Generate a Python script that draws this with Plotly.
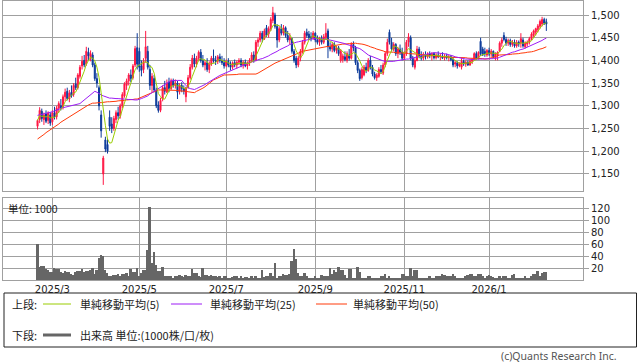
import pandas as pd
import plotly.graph_objects as go

# ---------------- data ----------------
holidays = ["2025-02-24", "2025-03-20", "2025-04-29", "2025-05-05", "2025-05-06",
            "2025-07-21", "2025-08-11", "2025-09-15", "2025-09-23", "2025-10-13",
            "2025-11-03", "2025-11-24", "2025-12-31", "2026-01-01", "2026-01-02",
            "2026-01-12", "2026-02-11"]
dates = [d for d in pd.bdate_range("2025-02-19", "2026-02-13")
         if d.strftime("%Y-%m-%d") not in holidays]

opens = [1255,1270,1288,1270,1282,1268,1280,1265,1285,1276,1295,1300,1298,1320,1332,1315,1330,1325,1348,1340,
         1365,1388,1400,1392,1418,1405,1412,1390,1360,1340,1280,1150,1225,1215,1275,1260,1250,1270,1285,1278,
         1300,1322,1345,1355,1368,1362,1390,1428,1420,1388,1380,1405,1420,1380,1345,1360,1335,1302,1290,1315,
         1340,1330,1352,1338,1355,1345,1350,1332,1345,1338,1320,1340,1362,1385,1405,1392,1405,1418,1400,1390,
         1395,1380,1392,1405,1400,1398,1408,1400,1395,1388,1398,1390,1385,1395,1390,1396,1400,1390,1396,1388,
         1394,1400,1412,1400,1440,1445,1460,1448,1472,1458,1470,1488,1500,1475,1445,1470,1460,1472,1455,1445,
         1448,1420,1405,1390,1405,1420,1440,1462,1458,1452,1450,1460,1445,1440,1448,1440,1450,1465,1430,1425,
         1435,1422,1428,1400,1402,1408,1400,1412,1405,1435,1428,1395,1378,1362,1368,1385,1378,1400,1385,1370,
         1362,1365,1380,1372,1390,1415,1462,1440,1425,1435,1415,1425,1418,1405,1415,1440,1450,1405,1385,1400,
         1425,1410,1405,1412,1408,1414,1410,1415,1406,1412,1408,1410,1405,1410,1406,1408,1402,1392,1395,1388,
         1385,1398,1392,1396,1390,1398,1402,1415,1405,1442,1425,1420,1412,1422,1414,1420,1405,1412,1420,1438,
         1455,1446,1438,1444,1435,1440,1432,1440,1438,1445,1430,1436,1440,1448,1455,1462,1468,1475,1480,1490,
         1485]
highs = [1270,1297,1294,1285,1290,1288,1286,1290,1298,1300,1310,1315,1325,1338,1340,1335,1345,1350,1362,1372,
         1390,1410,1412,1430,1428,1422,1418,1395,1372,1345,1290,1190,1232,1228,1290,1275,1278,1290,1298,1305,
         1330,1352,1360,1372,1380,1392,1432,1460,1428,1400,1405,1465,1432,1390,1372,1368,1340,1310,1318,1345,
         1355,1358,1362,1360,1360,1358,1355,1350,1352,1345,1342,1368,1392,1412,1415,1410,1422,1425,1412,1400,
         1405,1398,1410,1424,1410,1412,1415,1410,1405,1402,1405,1398,1398,1402,1400,1405,1405,1400,1402,1398,
         1405,1418,1420,1445,1450,1465,1465,1470,1478,1475,1495,1518,1505,1480,1475,1480,1478,1475,1465,1460,
         1450,1425,1410,1410,1425,1445,1465,1470,1465,1462,1465,1462,1455,1452,1455,1458,1482,1470,1440,1440,
         1440,1432,1432,1425,1415,1420,1420,1425,1440,1442,1432,1400,1382,1385,1390,1395,1405,1410,1390,1375,
         1372,1385,1390,1395,1420,1448,1468,1450,1440,1438,1430,1435,1428,1420,1445,1460,1455,1410,1405,1432,
         1430,1420,1418,1420,1418,1420,1418,1418,1416,1420,1415,1418,1414,1415,1412,1412,1408,1400,1398,1396,
         1405,1402,1400,1400,1402,1405,1418,1420,1420,1450,1430,1428,1425,1428,1425,1422,1418,1420,1442,1450,
         1462,1452,1448,1448,1445,1446,1445,1444,1460,1450,1442,1444,1452,1462,1468,1472,1480,1490,1496,1494,
         1492]
lows = [1248,1262,1265,1258,1262,1260,1256,1258,1270,1270,1285,1290,1292,1310,1312,1308,1318,1320,1335,1336,
        1360,1380,1385,1388,1400,1398,1385,1355,1340,1290,1230,1126,1198,1195,1245,1240,1245,1262,1270,1272,
        1295,1318,1335,1345,1352,1358,1385,1380,1375,1365,1372,1395,1380,1335,1330,1330,1295,1285,1286,1310,
        1325,1328,1330,1335,1340,1338,1315,1325,1330,1325,1308,1338,1358,1380,1385,1385,1398,1395,1385,1378,
        1375,1372,1388,1395,1390,1392,1395,1390,1382,1385,1385,1378,1380,1385,1382,1390,1385,1382,1385,1380,
        1388,1395,1395,1398,1430,1440,1440,1445,1452,1450,1465,1482,1470,1428,1440,1455,1455,1450,1440,1435,
        1415,1395,1383,1385,1398,1415,1435,1450,1445,1442,1445,1440,1435,1432,1435,1436,1445,1405,1420,1418,
        1418,1415,1410,1395,1395,1398,1395,1400,1402,1420,1390,1372,1355,1358,1365,1372,1375,1380,1365,1358,
        1355,1362,1370,1368,1385,1410,1435,1420,1420,1410,1405,1412,1400,1400,1410,1430,1400,1385,1380,1398,
        1405,1400,1400,1402,1404,1405,1400,1402,1402,1405,1400,1403,1400,1402,1398,1398,1385,1385,1382,1385,
        1380,1388,1386,1388,1388,1392,1400,1402,1402,1410,1410,1408,1408,1410,1408,1405,1400,1400,1418,1430,
        1442,1432,1432,1430,1430,1428,1428,1430,1428,1428,1426,1430,1435,1445,1450,1455,1462,1470,1475,1478,
        1465]
closes = [1268,1290,1272,1280,1266,1284,1262,1285,1275,1295,1305,1296,1320,1330,1316,1328,1322,1345,1340,1368,
          1385,1398,1390,1420,1410,1415,1390,1360,1350,1300,1245,1185,1205,1200,1255,1250,1272,1285,1278,1300,
          1325,1348,1355,1368,1360,1388,1426,1392,1385,1378,1398,1430,1385,1345,1365,1335,1300,1290,1312,1340,
          1332,1350,1338,1355,1345,1350,1330,1345,1338,1332,1340,1362,1385,1405,1392,1405,1418,1400,1390,1395,
          1380,1392,1405,1400,1398,1408,1400,1395,1388,1398,1390,1385,1395,1390,1396,1400,1390,1396,1388,1394,
          1400,1412,1400,1440,1445,1460,1448,1465,1455,1470,1490,1505,1475,1445,1470,1460,1472,1455,1445,1450,
          1420,1400,1390,1405,1420,1440,1460,1455,1450,1448,1460,1445,1440,1448,1440,1452,1460,1430,1425,1435,
          1422,1428,1415,1420,1410,1402,1415,1405,1435,1428,1395,1378,1360,1380,1385,1378,1400,1385,1370,1362,
          1368,1380,1375,1390,1415,1440,1440,1425,1435,1415,1425,1418,1405,1415,1440,1452,1405,1390,1400,1425,
          1410,1405,1412,1408,1414,1410,1415,1406,1412,1408,1410,1405,1410,1406,1408,1402,1390,1395,1388,1393,
          1398,1392,1396,1390,1398,1402,1415,1405,1418,1415,1412,1415,1422,1414,1420,1408,1415,1418,1438,1445,
          1446,1438,1444,1435,1440,1432,1440,1436,1448,1432,1438,1440,1448,1458,1465,1470,1476,1486,1490,1482,
          1480]
volumes = [60,22,24,23,18,17,13,13,20,18,18,13,11,15,14,14,10,9,13,15,
           15,18,13,15,15,17,20,10,17,37,42,40,17,11,7,7,9,9,10,7,
           10,10,11,7,18,13,13,20,7,11,17,17,50,122,28,47,25,15,15,22,
           6,6,6,7,4,7,7,9,7,5,9,7,7,18,11,11,6,5,20,9,
           9,7,9,6,6,5,7,4,6,6,4,3,5,7,7,4,6,4,5,5,
           3,7,4,7,3,3,17,5,7,7,11,7,28,4,6,6,10,9,9,10,
           32,52,35,11,7,7,11,7,4,4,4,7,3,3,9,6,7,7,20,10,
           17,14,22,17,17,9,3,18,18,3,4,22,14,4,4,4,6,7,3,3,
           3,4,7,7,10,4,7,3,3,3,3,2,10,10,7,6,20,7,17,17,
           4,4,2,4,4,6,2,4,6,7,7,10,9,7,6,6,10,7,3,3,
           2,4,7,9,10,10,7,6,10,10,7,4,7,9,6,5,4,4,7,4,
           6,7,4,4,9,10,3,3,2,4,6,4,4,7,10,10,15,7,11,14,
           14]
ma25 = [1279,1280,1281,1282,1283,1284,1285,1287,
        1289,1291,1293,1294,1296,1297,
        1298,1299,1300,1301,1302,1303,1305,
        1309,1313,1318,
        1322,1326,1329,1332,
        1330,1326,
        1324,1322,1320,1318,1317,
        1317,1316,1316,1316,1315,1315,1315,
        1314,1314,1314,1313,1313,1313,
        1314,1316,1318,1320,1322,
        1326,1329,1332,1336,1339,
        1342,1345,1348,1351,1353,1355,
        1356,1356,1356,1356,1356,
        1350,1345,1340,
        1338,1337,1336,
        1338,1340,1342,1345,1347,
        1350,1353,1356,1359,1362,1364,1367,
        1369,1371,1373,1375,1377,1379,1381,1383,
        1385,1388,1390,
        1392,1393,1395,1397,1398,1400,
        1401,1403,1404,1406,1407,
        1410,1413,1415,1418,
        1420,1423,1425,1428,1430,1432,1435,1437,
        1438,1440,1441,1442,1443,1445,1446,1447,
        1447,1448,1448,1448,1448,1448,1447,1447,
        1446,1445,1444,1443,1442,1441,1440,1438,
        1437,1435,1434,1432,
        1431,1429,1428,1426,
        1423,1419,1416,1412,
        1410,1408,1406,1404,
        1402,1400,1399,
        1398,1398,1397,1397,1398,
        1399,1400,1400,1401,
        1402,1403,1403,1404,1405,1406,
        1407,1409,1410,1412,1413,1415,
        1416,1416,1417,1417,1416,1416,
        1415,1415,1414,1413,
        1411,1410,1408,1407,1405,1404,
        1403,1403,1403,1402,1402,1402,1403,1403,1403,
        1403,1403,1404,1404,1404,1404,1405,1405,
        1407,1409,1411,1413,1415,
        1416,1418,1419,1421,1422,1424,1425,1427,
        1429,1431,1433,1435,1438,1440,
        1442,1444,1447,1449]
ma50 = [1227,1230,1234,1237,1241,1244,1248,1251,
        1254,1257,1260,1264,1267,1270,1273,
        1276,1279,1282,1285,1288,1291,
        1294,1297,1299,1302,1304,1306,
        1306,1307,1307,1307,1308,1308,1309,1309,
        1309,1310,1310,1311,1311,1312,1312,1313,
        1313,1314,1314,1315,1315,
        1317,1319,1321,1323,1325,1327,1329,1331,1333,1335,
        1335,1335,1335,1335,1335,1335,
        1335,1334,1334,1333,1333,1332,1332,1331,
        1330,1330,1329,
        1332,1334,1337,1339,1342,
        1346,1349,1353,1357,
        1359,1361,1364,1366,1368,
        1368,1368,1369,1369,1369,1369,1370,1370,1370,
        1370,1370,1370,1370,1370,1370,
        1372,1375,1377,1380,1383,
        1386,1389,1391,1394,
        1396,1398,1400,1403,1405,1407,
        1409,1411,1413,1415,1417,1419,
        1420,1421,1422,1423,
        1424,1425,1425,1426,1427,
        1428,1429,1430,
        1431,1431,1432,1433,1434,1434,1435,1436,
        1436,1437,1437,1437,1438,1438,
        1437,1437,1436,1435,1434,
        1432,1430,1429,1427,
        1425,1424,1422,1421,1419,
        1419,1418,1418,1418,1417,1417,1417,1416,1416,
        1416,1415,1415,1415,1414,1414,1413,1413,1413,1412,
        1412,1411,1411,1410,1410,1409,1409,1408,1408,1408,1407,
        1407,1407,1407,1406,1406,1406,1406,1406,1405,1405,1405,1405,
        1405,1404,1404,1404,1403,1403,
        1404,1406,1407,1409,1410,1412,
        1412,1412,1413,1413,1413,1414,1414,
        1415,1415,1416,1416,1417,1418,1418,1419,
        1420,1422,1423,1425,1426,1428,1430]

price_ticks = [1150, 1200, 1250, 1300, 1350, 1400, 1450, 1500]
volume_ticks = [20, 40, 60, 80, 100, 120]

legend_labels = ["単純移動平均(5)", "単純移動平均(25)", "単純移動平均(50)"]
volume_label = "出来高 単位:(1000株/口/枚)"

# ---------------- figure ----------------
n = min(len(dates), len(opens), len(highs), len(lows), len(closes), len(volumes), len(ma25), len(ma50))
x = list(range(n))
ma5 = pd.Series(closes[:n]).rolling(5, min_periods=1).mean().tolist()

tickvals, ticktext = [], []
for i in range(1, len(dates)):
    d = dates[i]
    if d.month != dates[i - 1].month and d.month % 2 == 1:
        tickvals.append(i)
        ticktext.append(f"{d.year}/{d.month}")

W, H = 638, 362
def fx(px):
    return px / W
def fy(py):
    return 1 - py / H

RED = "#ff1744"
BLUE = "#0b3a9a"
GRID = "#a0a0a0"
C5, C25, C50 = "#99cc00", "#9d1cf5", "#ff3a0a"

fig = go.Figure()
fig.add_trace(go.Candlestick(
    x=x, open=opens[:n], high=highs[:n], low=lows[:n], close=closes[:n],
    increasing=dict(line=dict(color=RED, width=1), fillcolor=RED),
    decreasing=dict(line=dict(color=BLUE, width=1), fillcolor=BLUE),
    whiskerwidth=0, showlegend=False, hoverinfo="skip", xaxis="x", yaxis="y"))
for series, col in [(ma50[:n], C50), (ma25[:n], C25), (ma5, C5)]:
    fig.add_trace(go.Scatter(x=x, y=series, mode="lines", line=dict(color=col, width=1),
                             showlegend=False, hoverinfo="skip", xaxis="x", yaxis="y"))
fig.add_trace(go.Bar(x=x, y=volumes[:n], marker=dict(color="#666666", line=dict(width=0)),
                     width=0.9, showlegend=False, hoverinfo="skip", xaxis="x2", yaxis="y2"))

xdom = [fx(3), fx(583)]
xr = [-16.3, 257.3]
tickfont = dict(family="DejaVu Sans", size=10, color="#222222")
common_x = dict(domain=xdom, range=xr, tickvals=tickvals, ticktext=ticktext,
                showgrid=True, gridcolor=GRID, gridwidth=1, zeroline=False,
                showline=True, mirror=True, linecolor=GRID, linewidth=1, ticks="",
                fixedrange=True)
fig.update_layout(
    width=W, height=H, autosize=False,
    margin=dict(l=0, r=0, t=0, b=0),
    paper_bgcolor="white", plot_bgcolor="white",
    bargap=0,
    xaxis=dict(**common_x, anchor="y", showticklabels=False, rangeslider=dict(visible=False)),
    xaxis2=dict(**common_x, anchor="y2", showticklabels=True, tickfont=tickfont),
    yaxis=dict(domain=[fy(190.7), fy(0.7)], range=[1113.2, 1531.5], side="right",
               tickvals=price_ticks, ticktext=[f"{v:,}" for v in price_ticks],
               ticks="outside", ticklen=5, tickcolor=GRID, tickfont=tickfont,
               showgrid=True, gridcolor=GRID, zeroline=False,
               showline=True, mirror=True, linecolor=GRID, linewidth=1, anchor="x"),
    yaxis2=dict(domain=[fy(280), fy(198)], range=[0, 137.2], side="right",
                tickvals=volume_ticks, ticktext=[str(v) for v in volume_ticks],
                ticks="outside", ticklen=5, tickcolor=GRID, tickfont=tickfont,
                showgrid=True, gridcolor=GRID, zeroline=False,
                showline=True, mirror=True, linecolor=GRID, linewidth=1, anchor="x2"),
)

jp = "Noto Sans CJK JP"
ann = []
ann.append(dict(text="単位: 1000", x=fx(6), y=fy(208), xref="paper", yref="paper",
                xanchor="left", yanchor="middle", showarrow=False,
                font=dict(family=jp, size=10.5, color="#222")))
# legend box
shapes = [dict(type="rect", xref="paper", yref="paper", x0=fx(4), x1=fx(636.5),
               y0=fy(347), y1=fy(293), line=dict(color="#222", width=1))]
ann.append(dict(text="上段:", x=fx(10), y=fy(304), xref="paper", yref="paper", xanchor="left",
                yanchor="middle", showarrow=False, font=dict(family=jp, size=11, color="#222")))
ann.append(dict(text="下段:", x=fx(10), y=fy(335), xref="paper", yref="paper", xanchor="left",
                yanchor="middle", showarrow=False, font=dict(family=jp, size=11, color="#222")))
line_pos = [(43, 71, 78), (171, 202, 208), (316, 347, 351)]
for (a, b, t), col, lab in zip(line_pos, [C5, C25, C50], legend_labels):
    shapes.append(dict(type="line", xref="paper", yref="paper", x0=fx(a), x1=fx(b),
                       y0=fy(304), y1=fy(304), line=dict(color=col, width=1)))
    ann.append(dict(text=lab, x=fx(t), y=fy(304), xref="paper", yref="paper", xanchor="left",
                    yanchor="middle", showarrow=False, font=dict(family=jp, size=11, color="#222")))
shapes.append(dict(type="line", xref="paper", yref="paper", x0=fx(43), x1=fx(71),
                   y0=fy(335), y1=fy(335), line=dict(color="#666666", width=3)))
ann.append(dict(text=volume_label, x=fx(78), y=fy(335), xref="paper", yref="paper", xanchor="left",
                yanchor="middle", showarrow=False, font=dict(family=jp, size=11, color="#222")))
ann.append(dict(text="(c)Quants Research Inc.", x=fx(619), y=fy(356), xref="paper", yref="paper",
                xanchor="right", yanchor="middle", showarrow=False,
                font=dict(family="Noto Sans", size=10.5, color="#555")))
fig.update_layout(annotations=ann, shapes=shapes)

fig.write_html("out.html")
